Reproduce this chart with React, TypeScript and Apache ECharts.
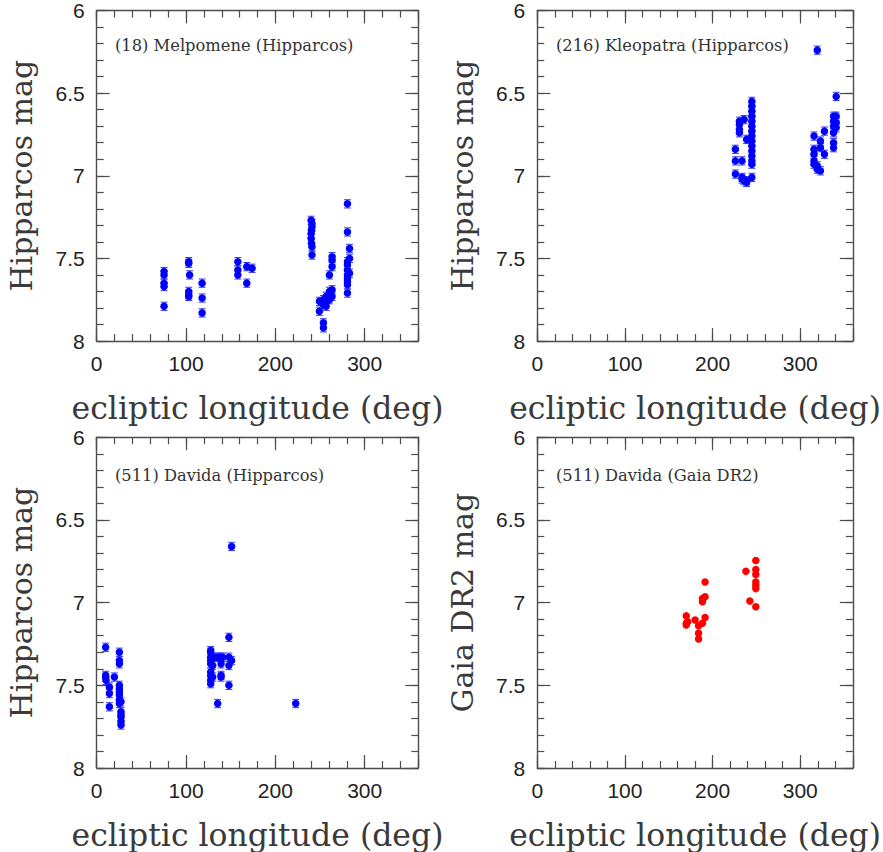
import React, { useEffect, useRef } from 'react';
import * as echarts from 'echarts';

// [ecliptic longitude (deg), magnitude]
const melpomeneHip: [number, number][] = [
  [75.4, 7.58], [75.4, 7.6], [75.4, 7.65], [75.4, 7.67], [75.4, 7.79],
  [103, 7.52], [103, 7.53], [104, 7.6], [103, 7.7], [103, 7.72], [103, 7.73],
  [118, 7.65], [118, 7.74], [118, 7.83],
  [158, 7.52], [158, 7.57], [158, 7.6],
  [168, 7.55], [168, 7.65],
  [174, 7.56],
  [240, 7.27], [241, 7.29], [241, 7.31], [240.5, 7.33], [240, 7.35], [240, 7.38], [240.5, 7.41], [241, 7.43], [241, 7.48],
  [249.3, 7.76], [249.3, 7.82],
  [253.8, 7.75], [253.8, 7.78], [253.8, 7.89], [253.8, 7.92],
  [256.8, 7.73], [256.8, 7.76], [256.8, 7.79],
  [260.5, 7.6], [260.5, 7.7], [260.5, 7.75],
  [263.5, 7.49], [263.5, 7.51], [263.5, 7.55], [263.5, 7.69], [263.5, 7.73],
  [280.7, 7.17], [280.7, 7.34], [280.7, 7.52], [280.7, 7.54], [280.7, 7.57], [280.7, 7.6], [280.7, 7.62], [280.7, 7.64], [280.7, 7.66], [280.7, 7.71],
  [283, 7.44], [283, 7.5], [283, 7.59],
];

const kleopatraHip: [number, number][] = [
  [226, 6.84], [226, 6.91], [226, 6.99],
  [230.6, 6.67], [230.6, 6.69], [230.6, 6.72], [230.6, 6.74],
  [233.6, 6.91], [233.6, 7.01], [233.6, 7.02],
  [236, 6.66], [236, 7.03],
  [238.8, 6.78], [238.8, 7.03], [238.8, 7.04],
  [244.8, 6.55], [244.8, 6.58], [244.8, 6.61], [244.8, 6.64], [244.8, 6.67], [244.8, 6.7], [244.8, 6.73], [244.8, 6.76],
  [244.8, 6.79], [244.8, 6.82], [244.8, 6.85], [244.8, 6.88], [244.8, 6.91], [244.8, 6.93], [244.8, 7.01],
  [315.7, 6.76], [315.7, 6.84], [315.7, 6.87], [315.7, 6.91], [315.7, 6.93],
  [319.4, 6.24], [319.4, 6.94], [319.4, 6.96],
  [323, 6.79], [323, 6.83], [323, 6.97],
  [327.6, 6.73], [327.6, 6.87],
  [338, 6.64], [338, 6.67], [338, 6.7], [338, 6.74], [338, 6.8], [338, 6.83],
  [341, 6.52], [341, 6.64], [341, 6.68], [341, 6.71],
];

const davidaHip: [number, number][] = [
  [10, 7.27], [10, 7.44], [10, 7.45], [10.5, 7.47],
  [14.2, 7.51], [14.2, 7.55], [14.2, 7.63],
  [19.8, 7.45],
  [25.4, 7.3], [25.4, 7.35], [25.4, 7.37], [25.4, 7.5], [25.4, 7.52], [25.4, 7.54], [25.4, 7.56], [25.4, 7.59], [25.4, 7.61],
  [27.2, 7.6], [27.2, 7.66], [27.2, 7.68], [27.2, 7.69], [27.2, 7.72], [27.2, 7.74],
  [127.6, 7.29], [127.6, 7.3], [127.6, 7.33], [127.6, 7.35], [127.6, 7.37], [127.6, 7.42], [127.6, 7.44], [127.6, 7.47], [127.6, 7.49],
  [129.9, 7.38], [129.9, 7.45],
  [133, 7.33], [136, 7.33], [139, 7.33], [141, 7.33],
  [135.4, 7.61],
  [139.2, 7.37], [139.2, 7.44], [139.2, 7.45],
  [148, 7.21], [148, 7.33], [148, 7.38], [148, 7.5],
  [151, 6.66], [151, 7.35],
  [222.8, 7.61],
];

const davidaGaia: [number, number][] = [
  [170, 7.08], [170, 7.125], [170, 7.135], [171.6, 7.115], [180, 7.105],
  [184, 7.14], [184, 7.185], [184, 7.22],
  [188.4, 6.975], [188.4, 6.995], [188.4, 7.125],
  [191.4, 6.875], [191.4, 6.965], [191.4, 7.09],
  [238, 6.81], [242.5, 6.99],
  [249.3, 6.745], [249.3, 6.8], [249.3, 6.83], [249.3, 6.875], [249.3, 6.895], [249.3, 6.915], [249.3, 7.025],
];

const panelTitles = [
  '(18) Melpomene (Hipparcos)',
  '(216) Kleopatra (Hipparcos)',
  '(511) Davida (Hipparcos)',
  '(511) Davida (Gaia DR2)',
];
const yNames = ['Hipparcos mag', 'Hipparcos mag', 'Hipparcos mag', 'Gaia DR2 mag'];
const xName = 'ecliptic longitude (deg)';
const HIP_ERR = 0.025;

const FRAME = '#4d4d4d';
const SERIF = '"DejaVu Serif", serif';
const SANS = '"Liberation Sans", Arial, sans-serif';

const grids = [
  { left: 96.7, top: 8.3, width: 321.6, height: 332.7 },
  { left: 537.3, top: 8.3, width: 322.7, height: 332.7 },
  { left: 96.7, top: 437.3, width: 321.6, height: 333.7 },
  { left: 537.3, top: 437.3, width: 322.7, height: 333.7 },
];

function xAxes(g: number) {
  const base = {
    gridIndex: g, type: 'value', min: 0, max: 360,
    splitLine: { show: false },
  };
  const line = { show: true, onZero: false, lineStyle: { color: FRAME, width: 1.4 } };
  const noLine = { show: false, onZero: false };
  const minorTick = { show: true, inside: true, length: 7, lineStyle: { color: FRAME, width: 1.2 } };
  const majorTick = { show: true, inside: true, length: 13, lineStyle: { color: FRAME, width: 1.2 } };
  return [
    { ...base, position: 'bottom', interval: 20, axisLine: line, axisTick: minorTick, axisLabel: { show: false } },
    {
      ...base, position: 'bottom', interval: 100, axisLine: noLine, axisTick: majorTick,
      axisLabel: {
        show: true, margin: 12, fontSize: 21, fontFamily: SANS, color: '#222',
        formatter: (v: number) => (v % 100 === 0 ? String(v) : ''),
      },
      name: xName, nameLocation: 'middle', nameGap: 51,
      nameTextStyle: { fontSize: 31.5, fontFamily: SERIF, color: '#3a3a3a' },
    },
    { ...base, position: 'top', interval: 20, axisLine: line, axisTick: minorTick, axisLabel: { show: false } },
    { ...base, position: 'top', interval: 100, axisLine: noLine, axisTick: majorTick, axisLabel: { show: false } },
  ];
}

function yAxes(g: number) {
  const base = {
    gridIndex: g, type: 'value', min: 6, max: 8, inverse: true,
    splitLine: { show: false },
  };
  const line = { show: true, onZero: false, lineStyle: { color: FRAME, width: 1.4 } };
  const noLine = { show: false, onZero: false };
  const minorTick = { show: true, inside: true, length: 7, lineStyle: { color: FRAME, width: 1.2 } };
  const majorTick = { show: true, inside: true, length: 13, lineStyle: { color: FRAME, width: 1.2 } };
  return [
    { ...base, position: 'left', interval: 0.1, axisLine: line, axisTick: minorTick, axisLabel: { show: false } },
    {
      ...base, position: 'left', interval: 0.5, axisLine: noLine, axisTick: majorTick,
      axisLabel: {
        show: true, margin: 12, fontSize: 21, fontFamily: SANS, color: '#222',
        padding: [12, 0, 0, 0],
      },
      name: yNames[g], nameLocation: 'middle', nameGap: 60, nameRotate: 90,
      nameTextStyle: { fontSize: 30, fontFamily: SERIF, color: '#3a3a3a' },
    },
    { ...base, position: 'right', interval: 0.1, axisLine: line, axisTick: minorTick, axisLabel: { show: false } },
    { ...base, position: 'right', interval: 0.5, axisLine: noLine, axisTick: majorTick, axisLabel: { show: false } },
  ];
}

function errorBars(g: number, data: [number, number][]) {
  return {
    type: 'custom',
    xAxisIndex: 4 * g,
    yAxisIndex: 4 * g,
    data,
    silent: true,
    renderItem: (_params: any, api: any) => {
      const x = api.value(0);
      const y = api.value(1);
      const p1 = api.coord([x, y - HIP_ERR]);
      const p2 = api.coord([x, y + HIP_ERR]);
      const w = 3.5;
      const style = { stroke: '#3a3aff', lineWidth: 1 };
      return {
        type: 'group',
        children: [
          { type: 'line', shape: { x1: p1[0], y1: p1[1], x2: p2[0], y2: p2[1] }, style },
          { type: 'line', shape: { x1: p1[0] - w, y1: p1[1], x2: p1[0] + w, y2: p1[1] }, style },
          { type: 'line', shape: { x1: p2[0] - w, y1: p2[1], x2: p2[0] + w, y2: p2[1] }, style },
        ],
      };
    },
  };
}

function points(g: number, data: [number, number][], color: string) {
  return {
    type: 'scatter',
    xAxisIndex: 4 * g,
    yAxisIndex: 4 * g,
    data,
    symbol: 'circle',
    symbolSize: 7.5,
    itemStyle: { color, opacity: 1 },
    silent: true,
  };
}

const titlePos = [
  { left: 115, top: 37 },
  { left: 556, top: 37 },
  { left: 115, top: 467 },
  { left: 556, top: 467 },
];

export default function App() {
  const ref = useRef<HTMLDivElement>(null);
  useEffect(() => {
    document.body.style.margin = '0';
    if (!ref.current) return;
    const chart = echarts.init(ref.current, undefined, { renderer: 'svg' });
    const option: any = {
      animation: false,
      backgroundColor: '#fff',
      title: panelTitles.map((t, i) => ({
        text: t,
        left: titlePos[i].left,
        top: titlePos[i].top,
        padding: 0,
        textStyle: { fontSize: 16.3, fontFamily: SERIF, fontWeight: 'normal', color: '#333' },
      })),
      grid: grids,
      xAxis: [0, 1, 2, 3].flatMap((g) => xAxes(g)),
      yAxis: [0, 1, 2, 3].flatMap((g) => yAxes(g)),
      series: [
        errorBars(0, melpomeneHip),
        points(0, melpomeneHip, '#0000ff'),
        errorBars(1, kleopatraHip),
        points(1, kleopatraHip, '#0000ff'),
        errorBars(2, davidaHip),
        points(2, davidaHip, '#0000ff'),
        points(3, davidaGaia, '#ff0000'),
      ],
    };
    chart.setOption(option);
    return () => chart.dispose();
  }, []);
  return <div ref={ref} style={{ width: 883, height: 852 }} />;
}
